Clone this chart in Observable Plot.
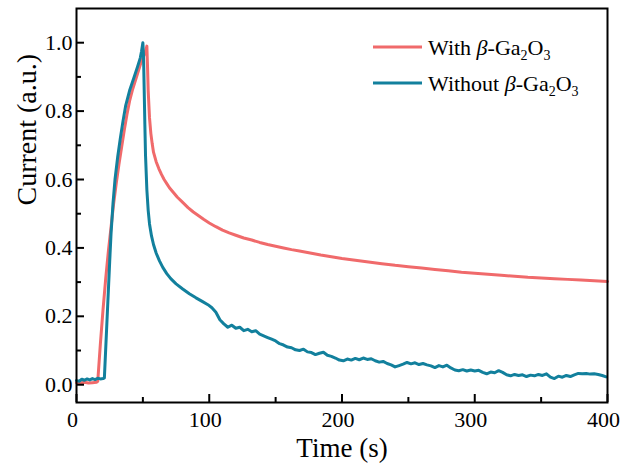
<!DOCTYPE html>
<html><head><meta charset="utf-8">
<script src="https://cdn.jsdelivr.net/npm/d3@7"></script>
<script src="https://cdn.jsdelivr.net/npm/@observablehq/plot@0.6"></script>
<style>
body{margin:0;background:#fff}
svg{font-family:"Liberation Serif","Times New Roman",serif}
</style>
</head><body><div id="chart"></div>
<script>
// ---- data ----
const seriesNames = ["With", "Without"];
const seriesColors = ["#f06a6b", "#12809d"];

const withTime = [0,3,6,9,12,15,16,18,20,22,24,26,28,30,32,34,36,38,40,42,44,46,48,50,52,53,53.5,54,55,56,57,58,60,62,64,66,68,70,73,76,80,84,88,92,96,100,105,110,115,120,126,132,138,144,150,156,162,168,176,184,192,200,210,220,230,240,250,260,270,280,290,300,310,320,330,340,350,360,370,380,390,400];
const withCurrent = [0.006,0.005,0.007,0.005,0.006,0.007,0.01,0.12,0.22,0.31,0.39,0.46,0.53,0.59,0.645,0.695,0.745,0.79,0.83,0.86,0.885,0.91,0.935,0.955,0.975,0.99,0.93,0.86,0.78,0.735,0.705,0.68,0.652,0.632,0.615,0.6,0.588,0.576,0.562,0.548,0.533,0.518,0.505,0.494,0.483,0.473,0.462,0.452,0.444,0.437,0.429,0.423,0.416,0.41,0.405,0.4,0.395,0.391,0.385,0.379,0.374,0.369,0.364,0.359,0.354,0.349,0.345,0.341,0.337,0.333,0.329,0.326,0.323,0.32,0.317,0.314,0.312,0.31,0.308,0.306,0.304,0.302];

const withoutTime = [0,2,4,6,8,10,12,14,16,18,20,21,23,25,26,27.5,29,31,33,35,37,40,43,46,48,49,50,50.5,51,51.5,52,53,54,55,56.5,58,60,62.5,65,68,71,75,80,85,90,95,
 99,102,105,108,111,114,117,120,123,126,129,132,135,138,141,144,147,150,153,156,159,162,165,168,171,174,177,180,183,186,189,192,195,198,201,204,207,210,213,216,219,222,225,228,231,234,237,240,243,246,249,252,255,258,261,264,267,270,273,276,279,282,285,288,291,294,297,300,303,306,309,312,315,318,321,324,327,330,333,336,339,342,345,348,351,354,357,360,363,366,369,372,375,378,381,384,387,390,393,396,399];
const withoutCurrent = [0.012,0.01,0.016,0.013,0.017,0.014,0.018,0.015,0.019,0.017,0.018,0.02,0.19,0.36,0.44,0.53,0.6,0.665,0.72,0.77,0.815,0.86,0.895,0.93,0.955,0.975,1.0,0.96,0.86,0.76,0.67,0.57,0.51,0.47,0.435,0.41,0.385,0.362,0.343,0.325,0.31,0.295,0.28,0.266,0.254,0.243,
 0.234,0.225,0.212,0.19,0.178,0.168,0.174,0.165,0.168,0.158,0.162,0.155,0.158,0.148,0.143,0.138,0.133,0.128,0.12,0.116,0.11,0.108,0.102,0.1,0.104,0.096,0.094,0.088,0.092,0.095,0.086,0.083,0.078,0.072,0.07,0.075,0.072,0.077,0.073,0.078,0.074,0.076,0.07,0.066,0.068,0.062,0.058,0.052,0.056,0.06,0.065,0.061,0.064,0.059,0.062,0.058,0.055,0.05,0.056,0.052,0.057,0.049,0.043,0.041,0.044,0.04,0.043,0.04,0.042,0.036,0.032,0.037,0.035,0.041,0.036,0.029,0.026,0.03,0.027,0.029,0.024,0.028,0.026,0.03,0.027,0.032,0.022,0.018,0.025,0.022,0.027,0.024,0.029,0.033,0.032,0.033,0.031,0.032,0.03,0.027,0.023];

const xTicks = [0, 100, 200, 300, 400];
const xMinorTicks = [50, 150, 250, 350];
const yTicks = [0, 0.2, 0.4, 0.6, 0.8, 1.0];
const yMinorTicks = [0.1, 0.3, 0.5, 0.7, 0.9];
const xLabel = "Time (s)";
const yLabel = "Current (a.u.)";

// ---- build table ----
const rows = [
  ...withTime.map((t, i) => ({t, v: withCurrent[i], s: seriesNames[0]})),
  ...withoutTime.map((t, i) => ({t, v: withoutCurrent[i], s: seriesNames[1]}))
];

const W = 621, H = 465, mT = 8, mR = 14, mB = 63, mL = 76;
const innerW = W - mL - mR, innerH = H - mT - mB;

const plot = Plot.plot({
  width: W, height: H,
  marginTop: mT, marginRight: mR, marginBottom: mB, marginLeft: mL,
  style: {fontFamily: '"Liberation Serif","Times New Roman",serif', fontSize: "22px", color: "#000", background: "#fff"},
  x: {domain: [0, 400]},
  y: {domain: [-0.052, 1.1]},
  color: {domain: seriesNames, range: seriesColors},
  marks: [
    Plot.line(rows, {x: "t", y: "v", z: "s", stroke: "s", strokeWidth: 3, strokeLinejoin: "round"}),
    // inward ticks
    Plot.tickX(xTicks, {x: d => d, insetTop: innerH - 8, stroke: "#000", strokeWidth: 2}),
    Plot.tickX(xMinorTicks, {x: d => d, insetTop: innerH - 5, stroke: "#000", strokeWidth: 2}),
    Plot.tickY(yTicks, {y: d => d, insetRight: innerW - 8, stroke: "#000", strokeWidth: 2}),
    Plot.tickY(yMinorTicks, {y: d => d, insetRight: innerW - 5, stroke: "#000", strokeWidth: 2}),
    Plot.frame({stroke: "#000", strokeWidth: 2}),
    Plot.axisX({ticks: xTicks, tickSize: 0, tickPadding: 9, dx: -4, tickFormat: d => String(d), label: null, fontSize: 22}),
    Plot.axisY({ticks: yTicks, tickSize: 0, tickPadding: 4, tickFormat: d3.format(".1f"), label: null, fontSize: 22}),
    Plot.text([xLabel], {frameAnchor: "bottom", dy: 46, fontSize: 27, lineAnchor: "middle"}),
    Plot.text([yLabel], {frameAnchor: "left", dx: -49, rotate: -90, fontSize: 28, lineAnchor: "middle"})
  ]
});

// ---- legend ----
const svg = d3.select(plot);
const legendItems = [
  {name: "With ", color: seriesColors[0], y: 47},
  {name: "Without ", color: seriesColors[1], y: 83}
];
const lg = svg.append("g").attr("font-size", 22).attr("fill", "#000").attr("text-anchor", "start");
legendItems.forEach(it => {
  lg.append("line").attr("x1", 373).attr("x2", 422).attr("y1", it.y).attr("y2", it.y)
    .attr("stroke", it.color).attr("stroke-width", 3);
  const tx = lg.append("text").attr("x", 428).attr("y", it.y + 8).attr("text-anchor", "start");
  tx.append("tspan").text(it.name);
  tx.append("tspan").attr("font-style", "italic").text("β");
  tx.append("tspan").text("-Ga");
  tx.append("tspan").attr("font-size", 14).attr("dy", 5).text("2");
  tx.append("tspan").attr("dy", -5).text("O");
  tx.append("tspan").attr("font-size", 14).attr("dy", 5).text("3");
});

document.getElementById("chart").appendChild(plot);
</script>
</body></html>
